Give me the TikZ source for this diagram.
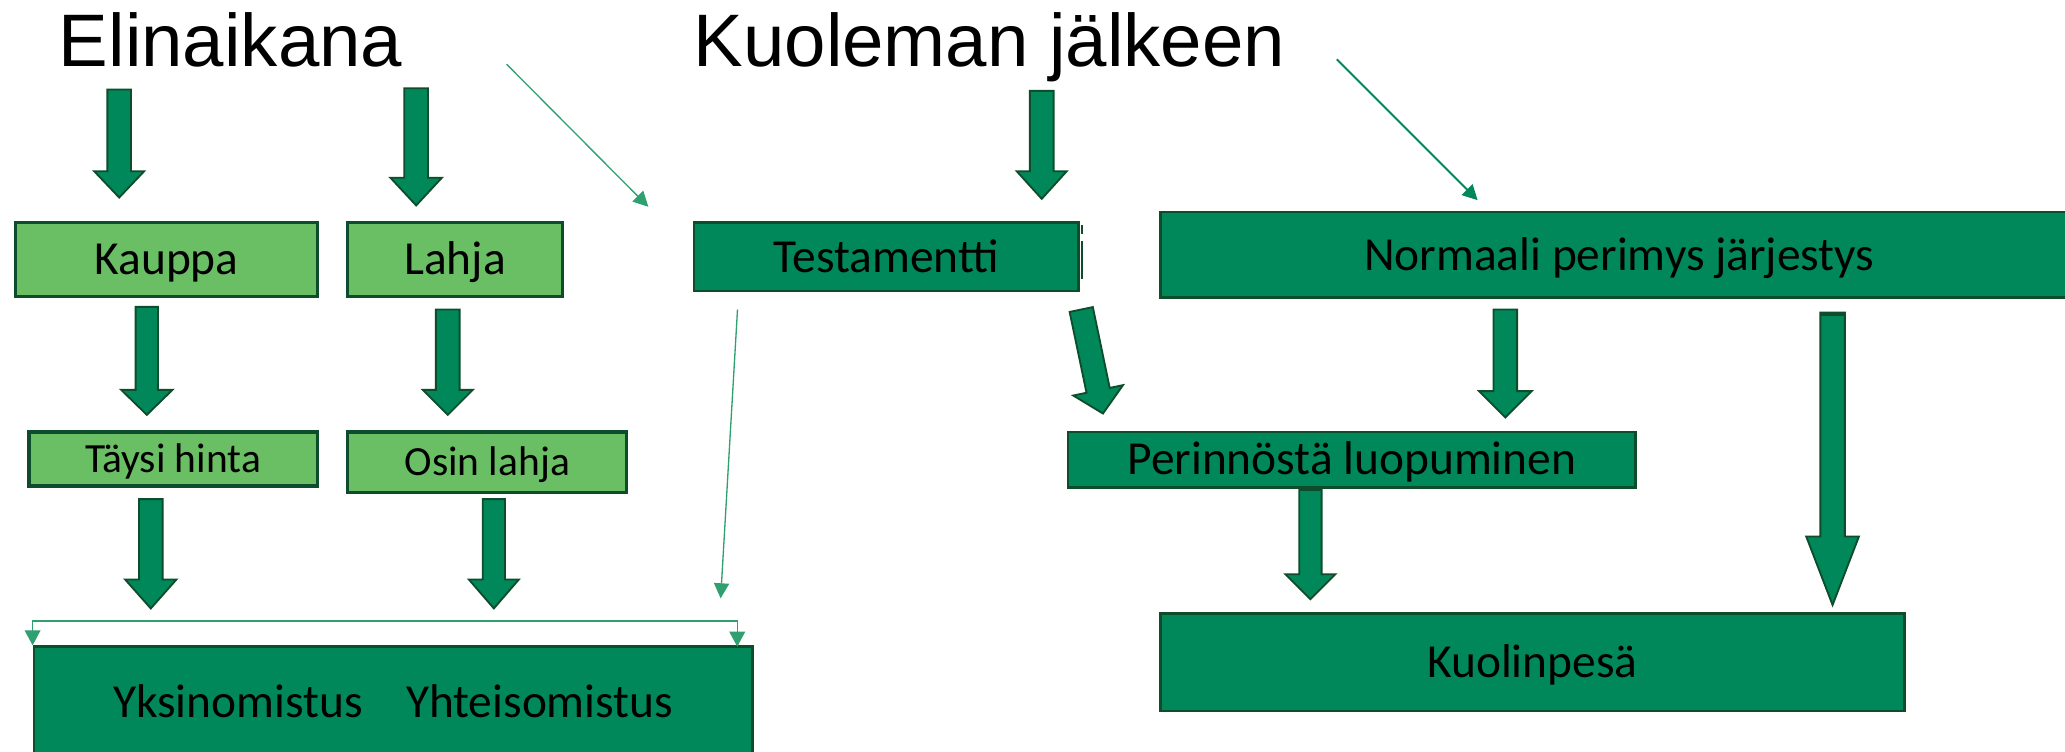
\documentclass[tikz,border=0pt]{standalone}
\usepackage{fontspec}
\setmainfont{Carlito}
\newfontfamily\titlefont{Liberation Sans}
\usetikzlibrary{calc,arrows.meta}
\definecolor{dkg}{HTML}{00875A}
\definecolor{ltg}{HTML}{6ABE63}
\definecolor{bdr}{HTML}{0E4D2C}
\definecolor{thing}{HTML}{2FA06F}
\newcommand\barr[5]{%
  \coordinate (bh) at ($(#2)!#5!(#1)$);
  \draw[blockarrow] ($(#1)!#3!90:(#2)$) -- ($(bh)!#3!90:(#2)$) -- ($(bh)!#4!90:(#2)$) -- (#2)
    -- ($(bh)!#4!-90:(#2)$) -- ($(bh)!#3!-90:(#2)$) -- ($(#1)!#3!-90:(#2)$) -- cycle;}
\begin{document}
\begin{tikzpicture}[x=1pt,y=-1pt,
  box/.style={draw=bdr, line width=2pt, rectangle, inner sep=0pt,
    font=\fontsize{36}{40}\selectfont, text height=23.2pt, text depth=0pt},
  lbox/.style={box, fill=ltg, line width=2.4pt},
  dbox/.style={box, fill=dkg},
  smalltext/.style={font=\fontsize{31.5}{36}\selectfont, text height=20.3pt},
  title/.style={font=\titlefont\fontsize{56.5}{60}\selectfont, inner sep=0pt, anchor=base west},
  blockarrow/.style={fill=dkg, draw=bdr, line width=1.4pt, line join=miter},
  thinarr/.style={draw=thing, line width=1pt, -{Triangle[length=11.4pt,width=11.5pt]}},
]
\clip (0,0) rectangle (1568,571);
\fill[white] (0,0) rectangle (1568,571);

% titles
\node[title] (elin) at (44.5,50.6) {Elinaikana};
\node[title] (kuol) at (526.5,50.6) {Kuoleman jälkeen};

% boxes
\node[lbox, minimum width=229pt, minimum height=56pt] (kauppa) at (126.5,197) {Kauppa};
\node[lbox, minimum width=163pt, minimum height=56pt] (lahja) at (345.5,197) {Lahja};
\node[dbox, minimum width=292pt, minimum height=52pt] (testamentti) at (673,195) {Testamentti};
\node[dbox, minimum width=697pt, minimum height=65pt] (normaali) at (1229.5,193.5) {Normaali perimys järjestys};
\node[lbox, smalltext, minimum width=219pt, minimum height=41pt] (taysi) at (131.5,348.5) {Täysi hinta};
\node[lbox, smalltext, minimum width=212pt, minimum height=46pt] (osin) at (370,351) {Osin lahja};
\node[dbox, minimum width=431pt, minimum height=42pt] (perinnosta) at (1026.5,349) {Perinnöstä luopuminen};
\node[dbox, minimum width=545.5pt, minimum height=84pt] (yksin) at (298.5,533) {Yksinomistus\hspace{33pt}Yhteisomistus};
\node[dbox, minimum width=565pt, minimum height=74pt] (kuolinpesa) at (1163.5,503) {Kuolinpesä};

% small mark at right edge of Testamentti
\draw[bdr, line width=1.5pt] ([xshift=1.4pt,yshift=-3pt]testamentti.north east) -- ++(0,6.5)
  ([xshift=1.4pt,yshift=-15pt]testamentti.north east) -- ++(0,28.5);

% block arrow end points
\coordinate (e1s) at (90.5,68);   \coordinate (e1t) at (90.5,150);
\coordinate (e2s) at (316,67);    \coordinate (e2t) at (316,156);
\coordinate (k1s) at (791,69);    \coordinate (k1t) at (791,151);
\coordinate (kas) at (111.5,233); \coordinate (kat) at (111.5,315);
\coordinate (las) at (340,235);   \coordinate (lat) at (340,315);
\coordinate (tas) at (114.5,379); \coordinate (tat) at (114.5,462);
\coordinate (oss) at (375,379);   \coordinate (ost) at (375,462);
\coordinate (tes) at (821,235);   \coordinate (tet) at (837.5,314);
\coordinate (nms) at (1143,235);  \coordinate (nmt) at (1143,317);
\coordinate (nrs) at (1391.5,237.4); \coordinate (nrt) at (1391.5,459.4);
\coordinate (pes) at (995,372);   \coordinate (pet) at (995,455);

\barr{e1s}{e1t}{9pt}{19pt}{20pt}
\barr{e2s}{e2t}{9pt}{19.5pt}{21pt}
\barr{k1s}{k1t}{9pt}{19pt}{21pt}
\barr{kas}{kat}{8.5pt}{19.5pt}{19pt}
\barr{las}{lat}{9pt}{19pt}{19pt}
\barr{tas}{tat}{9pt}{19.5pt}{22pt}
\barr{oss}{ost}{8.5pt}{19pt}{22pt}
\barr{tes}{tet}{9pt}{19.3pt}{18pt}
\barr{nms}{nmt}{9pt}{20pt}{20pt}
\barr{nrs}{nrt}{9.3pt}{20pt}{52pt}
\barr{pes}{pet}{8.5pt}{19pt}{19pt}
\draw[bdr, line width=3pt] (1382.5,238.5) -- (1400.5,238.5);

% thin arrows
\coordinate (t1s) at (384.7,48.8);  \coordinate (t1t) at (492.3,157);
\coordinate (t2s) at (1015,45);     \coordinate (t2t) at (1122,152);
\coordinate (t3s) at (560,235);     \coordinate (t3t) at (547.2,454.3);
\coordinate (br) at (559.8,491);
\draw[thinarr] (t1s) -- (t1t);
\draw[thinarr, draw=dkg, line width=1.4pt] (t2s) -- (t2t);
\draw[thinarr] (t3s) -- (t3t);
\draw[draw=thing, line width=1pt, {Triangle[length=11.4pt,width=12pt]}-{Triangle[length=11.4pt,width=12pt]}]
  (yksin.north west) -- ++(0,-18.5) -| (br);
\end{tikzpicture}
\end{document}
